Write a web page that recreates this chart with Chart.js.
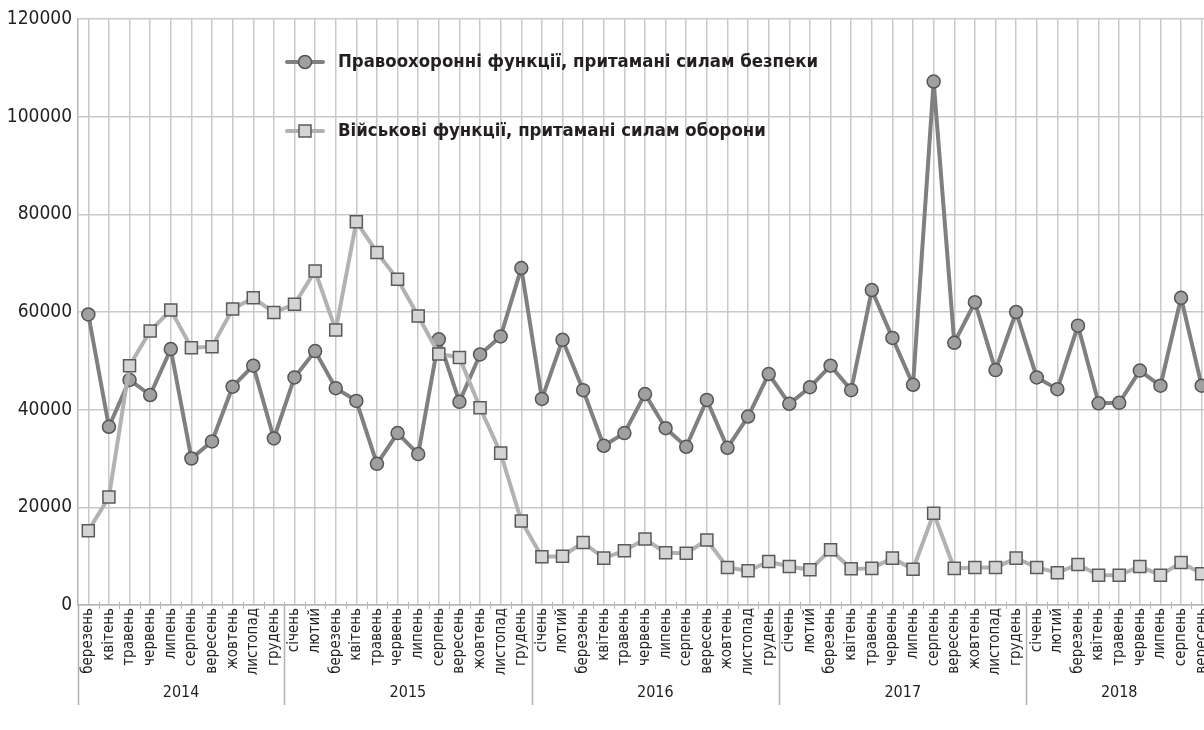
<!DOCTYPE html>
<html lang="uk">
<head>
<meta charset="utf-8">
<title>Функції сил безпеки та оборони</title>
<script src="https://cdn.jsdelivr.net/npm/chart.js@4.4.1/dist/chart.umd.min.js"></script>
<style>
    html, body { margin: 0; padding: 0; background: #fff; overflow: hidden; }
    .chart-box { position: relative; width: 1222px; height: 730px; }
</style>
</head>
<body>
<div class="chart-box"><canvas id="functionsChart"></canvas></div>
<script>
// Категорії: місяці з березня 2014 по вересень 2018
const monthLabels = [
    'березень', 'квітень', 'травень', 'червень', 'липень', 'серпень', 'вересень', 'жовтень', 'листопад', 'грудень',
    'січень', 'лютий', 'березень', 'квітень', 'травень', 'червень', 'липень', 'серпень', 'вересень', 'жовтень', 'листопад', 'грудень',
    'січень', 'лютий', 'березень', 'квітень', 'травень', 'червень', 'липень', 'серпень', 'вересень', 'жовтень', 'листопад', 'грудень',
    'січень', 'лютий', 'березень', 'квітень', 'травень', 'червень', 'липень', 'серпень', 'вересень', 'жовтень', 'листопад', 'грудень',
    'січень', 'лютий', 'березень', 'квітень', 'травень', 'червень', 'липень', 'серпень', 'вересень'
];
const years = ['2014', '2015', '2016', '2017', '2018'];
const monthsPerYear = [10, 12, 12, 12, 9];

const lawEnforcement = [
    59500, 36500, 46100, 43000, 52400, 30000, 33500, 44700, 49000, 34100,
    46600, 52000, 44400, 41800, 28900, 35200, 30900, 54400, 41600, 51300, 55000, 69000,
    42200, 54300, 44000, 32600, 35200, 43200, 36200, 32400, 42000, 32200, 38600, 47300,
    41200, 44600, 49000, 44000, 64500, 54700, 45100, 107200, 53700, 62000, 48100, 60000,
    46600, 44200, 57200, 41300, 41400, 48000, 44900, 62900, 44900
];
const military = [
    15200, 22100, 49000, 56100, 60400, 52700, 52900, 60600, 62900, 59900,
    61600, 68400, 56300, 78500, 72200, 66700, 59200, 51400, 50700, 40400, 31100, 17200,
    9900, 10000, 12800, 9600, 11100, 13500, 10700, 10600, 13300, 7700, 7000, 8900,
    7900, 7200, 11300, 7400, 7500, 9600, 7300, 18800, 7500, 7700, 7700, 9600,
    7700, 6600, 8300, 6100, 6100, 7900, 6100, 8700, 6400
];
const yTicks = [0, 20000, 40000, 60000, 80000, 100000, 120000];

const seriesNames = [
    'Правоохоронні функції, притамані силам безпеки',
    'Військові функції, притамані силам оборони'
];

const FONT = "'Liberation Sans Narrow', 'DejaVu Sans Condensed', sans-serif";
const GRID = '#c9c9c9';
const TEXT = '#231f20';

// Групи років під віссю X, засічки між місяцями та легенда
const yearAxisPlugin = {
    id: 'yearAxis',
    afterDraw(chart) {
        const ctx = chart.ctx;
        const x = chart.scales.x;
        const area = chart.chartArea;
        const half = (x.getPixelForValue(1) - x.getPixelForValue(0)) / 2;
        ctx.save();

        // дрібні засічки між категоріями
        ctx.strokeStyle = '#b5b5b5';
        ctx.lineWidth = 1;
        for (let i = 1; i < monthLabels.length; i++) {
            const px = Math.round(x.getPixelForValue(i) - half) + 0.5;
            ctx.beginPath();
            ctx.moveTo(px, area.bottom - 3);
            ctx.lineTo(px, area.bottom + 4);
            ctx.stroke();
        }

        // роздільники років і підписи
        let start = 0;
        ctx.font = '16px ' + FONT;
        ctx.fillStyle = TEXT;
        ctx.textAlign = 'center';
        ctx.textBaseline = 'middle';
        ctx.lineWidth = 1.5;
        ctx.strokeStyle = '#b0b0b0';
        years.forEach((yr, k) => {
            const end = start + monthsPerYear[k];
            const left = x.getPixelForValue(start) - half;
            const right = x.getPixelForValue(end - 1) + half;
            ctx.beginPath();
            ctx.moveTo(Math.round(left) + 0.5, area.bottom);
            ctx.lineTo(Math.round(left) + 0.5, area.bottom + 100);
            ctx.stroke();
            ctx.fillText(yr, (left + right) / 2, area.bottom + 88);
            start = end;
        });

        // легенда
        const styles = [
            { line: '#808080', fill: '#a0a0a0', border: '#555555', shape: 'circle' },
            { line: '#b2b2b2', fill: '#d4d4d4', border: '#5a5a5a', shape: 'rect' }
        ];
        const lx = area.left + 209;
        const rows = [area.top + 43, area.top + 112];
        styles.forEach((st, k) => {
            const ly = rows[k];
            ctx.strokeStyle = st.line;
            ctx.lineWidth = 4;
            ctx.lineCap = 'round';
            ctx.beginPath();
            ctx.moveTo(lx, ly);
            ctx.lineTo(lx + 36, ly);
            ctx.stroke();
            ctx.fillStyle = st.fill;
            ctx.strokeStyle = st.border;
            ctx.lineWidth = 1.5;
            ctx.beginPath();
            if (st.shape === 'circle') {
                ctx.arc(lx + 18, ly, 6.5, 0, Math.PI * 2);
            } else {
                ctx.rect(lx + 12, ly - 6, 12, 12);
            }
            ctx.fill();
            ctx.stroke();
            ctx.fillStyle = TEXT;
            ctx.font = 'bold 18.4px ' + FONT;
            ctx.textAlign = 'left';
            ctx.fillText(seriesNames[k], lx + 51, ly);
        });
        ctx.restore();
    }
};

const ctx = document.getElementById('functionsChart').getContext('2d');
new Chart(ctx, {
    type: 'line',
    data: {
        labels: monthLabels,
        datasets: [
            {
                label: seriesNames[0],
                data: lawEnforcement,
                borderColor: '#808080',
                borderWidth: 4,
                pointStyle: 'circle',
                pointRadius: 6.5,
                pointBackgroundColor: '#a0a0a0',
                pointBorderColor: '#555555',
                pointBorderWidth: 1.5,
                tension: 0,
                order: 1
            },
            {
                label: seriesNames[1],
                data: military,
                borderColor: '#b2b2b2',
                borderWidth: 4,
                pointStyle: 'rect',
                pointRadius: 8.5,
                pointBackgroundColor: '#d4d4d4',
                pointBorderColor: '#5a5a5a',
                pointBorderWidth: 1.5,
                tension: 0,
                order: 0
            }
        ]
    },
    options: {
        responsive: true,
        maintainAspectRatio: false,
        animation: false,
        layout: { padding: { top: 19, right: 0, left: 0, bottom: 0 } },
        plugins: {
            legend: { display: false },
            tooltip: { enabled: false }
        },
        scales: {
            x: {
                type: 'category',
                offset: true,
                grid: { offset: false, color: GRID, lineWidth: 1.5, drawTicks: false },
                border: { color: '#b5b5b5', width: 1.5 },
                ticks: {
                    autoSkip: false,
                    maxRotation: 90,
                    minRotation: 90,
                    padding: 3,
                    color: TEXT,
                    font: { family: FONT, size: 15 }
                },
                afterFit(scale) {
                    scale.height = 125;
                    scale.paddingLeft = 0;
                    scale.paddingRight = 0;
                }
            },
            y: {
                min: 0,
                max: 120000,
                afterBuildTicks(scale) { scale.ticks = yTicks.map(v => ({ value: v })); },
                grid: { color: GRID, lineWidth: 1.5, drawTicks: false },
                border: { color: '#b5b5b5', width: 1.5 },
                ticks: {
                    padding: 6,
                    color: TEXT,
                    font: { family: FONT, size: 19 },
                    callback: v => String(v)
                },
                afterFit(scale) { scale.width = 78; }
            }
        }
    },
    plugins: [yearAxisPlugin]
});
</script>
</body>
</html>
